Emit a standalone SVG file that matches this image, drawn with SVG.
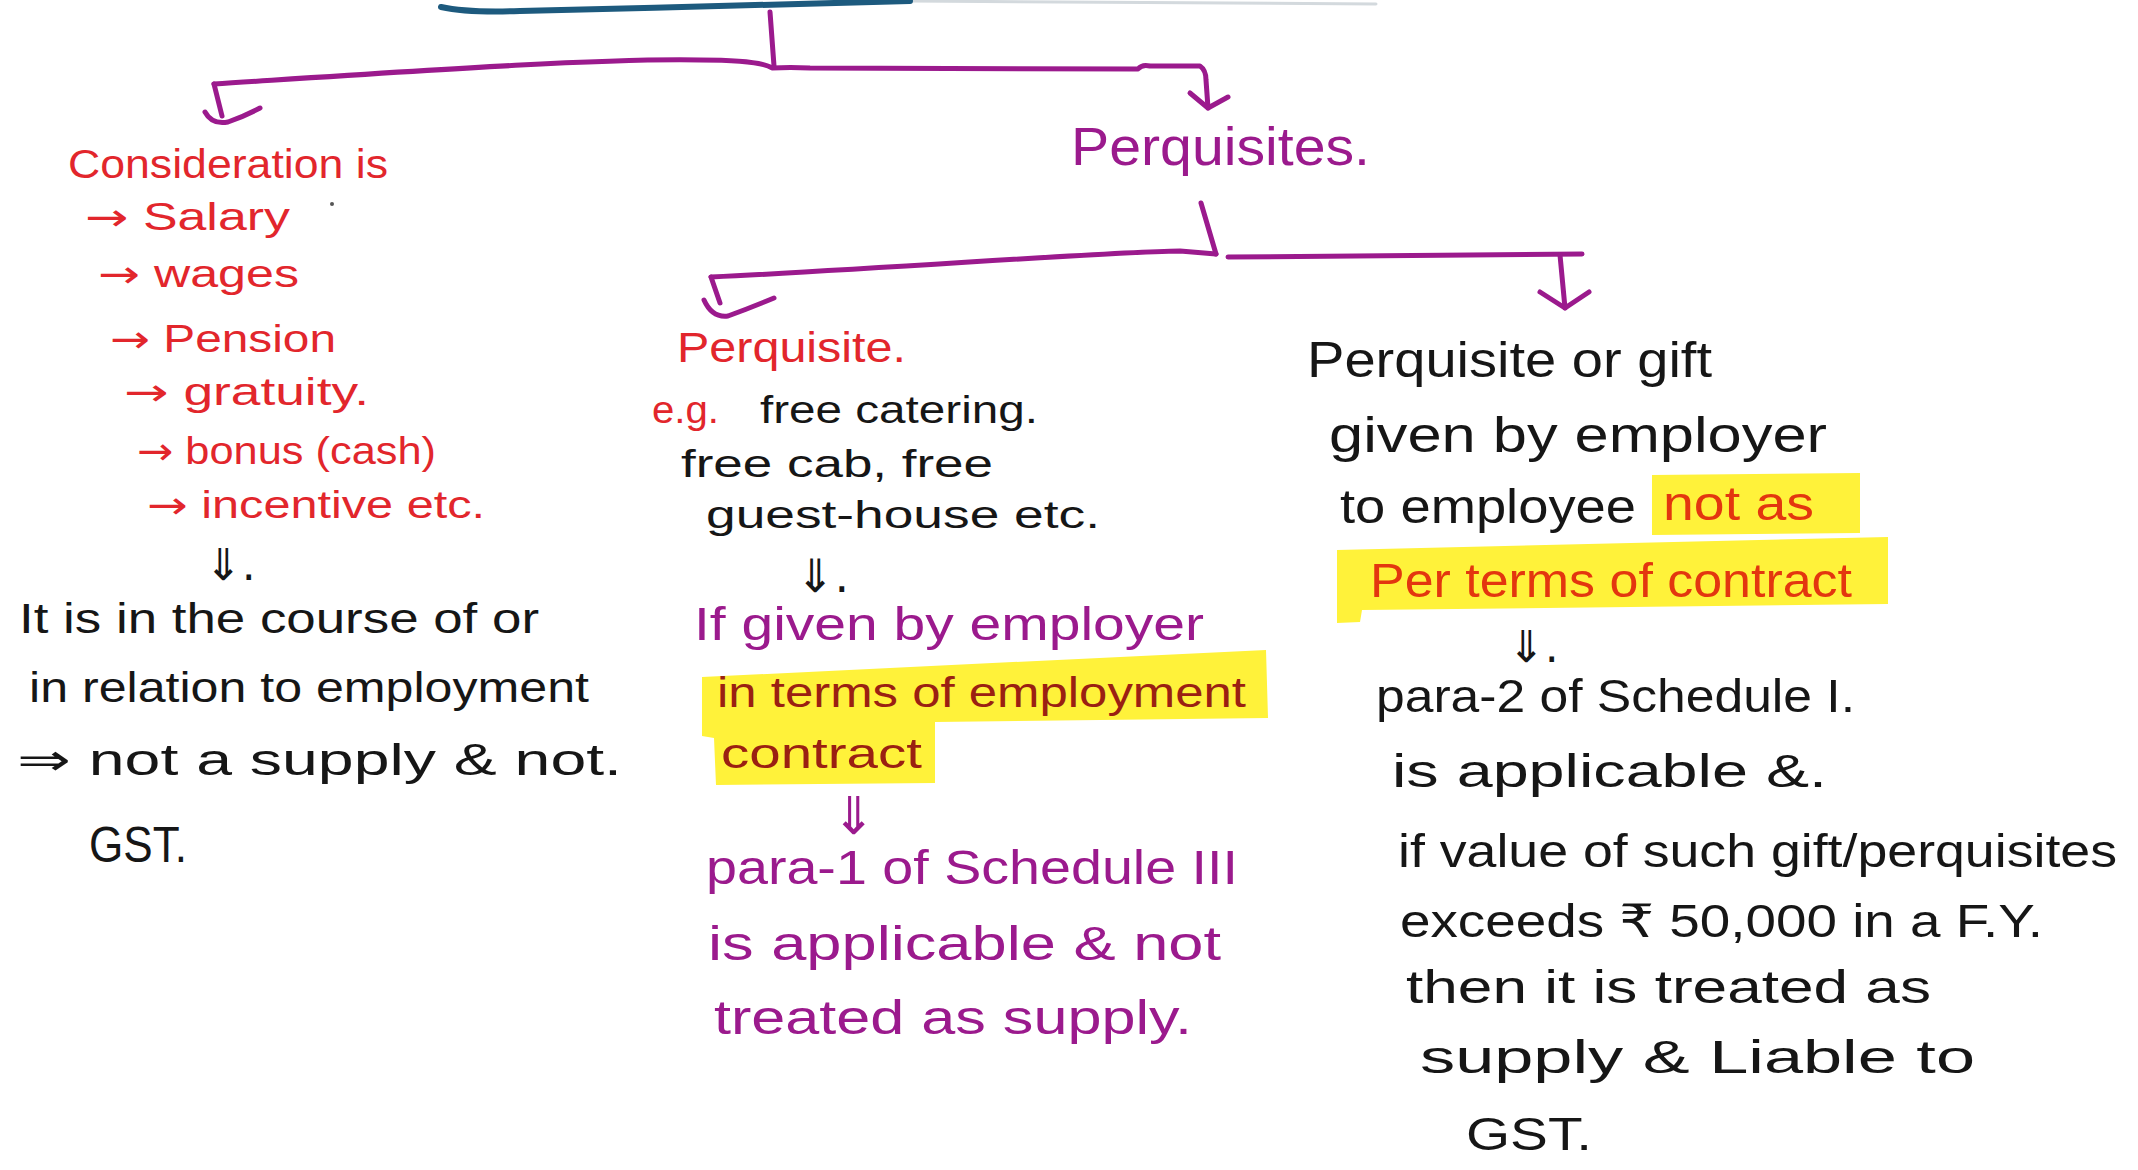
<svg xmlns="http://www.w3.org/2000/svg" width="2138" height="1170" viewBox="0 0 2138 1170">
<style>
.t{font-family:"Liberation Sans","DejaVu Sans",sans-serif;}
.ar{font-family:"DejaVu Sans","Liberation Sans",sans-serif;}
.red{fill:#e2262c}
.blk{fill:#161616}
.mag{fill:#9b1a8d}
.mar{fill:#9a2012}
.org{fill:#e3360f}
.hl{fill:#fff23a}
.con{fill:none;stroke:#9b1a8d;stroke-width:5;stroke-linecap:round;stroke-linejoin:round}
</style>
<rect width="2138" height="1170" fill="#ffffff"/>

<g id="heading-underline">
  <path d="M1376,4 C1200,3 1050,2 910,1" fill="none" stroke="#d3d9dd" stroke-width="3" stroke-linecap="round"/>
  <path d="M441,7 Q468,13 520,11 C650,8 800,4 910,1" fill="none" stroke="#1d5a7e" stroke-width="6" stroke-linecap="round"/>
</g>

<g id="connectors">
  <!-- top split -->
  <path class="con" d="M770,12 L774,66"/>
  <path class="con" d="M214,84 C400,72 600,58 700,60 Q760,60 772,68 Q790,67 810,68 L1138,69 Q1142,64 1150,66 L1200,66 Q1206,70 1206,80 L1208,108"/>
  <path class="con" d="M214,84 L222,116"/>
  <path class="con" d="M205,112 Q212,125 228,122 Q245,116 260,108"/>
  <path class="con" d="M1190,93 L1208,108 L1228,97"/>
  <!-- perquisites split -->
  <path class="con" d="M1201,203 L1216,254"/>
  <path class="con" d="M711,277 C900,268 1100,252 1180,251 L1216,254"/>
  <path class="con" d="M1228,257 L1582,254"/>
  <path class="con" d="M1560,255 L1565,308"/>
  <path class="con" d="M1540,292 L1565,308 L1589,292"/>
  <path class="con" d="M711,277 L720,303"/>
  <path class="con" d="M704,300 Q712,318 728,316 Q750,308 774,298"/>
  <!-- double arrows -->
  <text class="ar blk" x="205" y="580" font-size="44">⇓.</text>
  <text class="ar blk" x="796" y="592" font-size="46">⇓.</text>
  <text class="ar mag" x="832" y="834" font-size="52">⇓</text>
  <text class="ar blk" x="1508" y="662" font-size="44">⇓.</text>
</g>

<g id="node-perquisites">
  <text class="t mag" x="1071" y="165" font-size="54" textLength="299" lengthAdjust="spacingAndGlyphs">Perquisites.</text>
</g>

<g id="node-consideration">
  <text class="t red" x="68" y="178" font-size="40" textLength="320" lengthAdjust="spacingAndGlyphs">Consideration is</text>
  <text class="t red" x="85" y="230" font-size="38" textLength="205" lengthAdjust="spacingAndGlyphs"><tspan class="ar">→</tspan> Salary</text>
  <circle cx="332" cy="204" r="2" fill="#555"/>
  <text class="t red" x="98" y="287" font-size="38" textLength="201" lengthAdjust="spacingAndGlyphs"><tspan class="ar">→</tspan> wages</text>
  <text class="t red" x="110" y="352" font-size="38" textLength="226" lengthAdjust="spacingAndGlyphs"><tspan class="ar">→</tspan> Pension</text>
  <text class="t red" x="124" y="405" font-size="38" textLength="245" lengthAdjust="spacingAndGlyphs"><tspan class="ar">→</tspan> gratuity.</text>
  <text class="t red" x="137" y="464" font-size="38" textLength="299" lengthAdjust="spacingAndGlyphs"><tspan class="ar">→</tspan> bonus (cash)</text>
  <text class="t red" x="147" y="518" font-size="38" textLength="338" lengthAdjust="spacingAndGlyphs"><tspan class="ar">→</tspan> incentive etc.</text>
</g>

<g id="node-not-supply">
  <text class="t blk" x="19" y="633" font-size="42" textLength="520" lengthAdjust="spacingAndGlyphs">It is in the course of or</text>
  <text class="t blk" x="29" y="702" font-size="42" textLength="560" lengthAdjust="spacingAndGlyphs">in relation to employment</text>
  <text class="t blk" x="17" y="775" font-size="44" textLength="605" lengthAdjust="spacingAndGlyphs">⇒ not a supply &amp; not.</text>
  <text class="t blk" x="89" y="862" font-size="50" textLength="98" lengthAdjust="spacingAndGlyphs">GST.</text>
</g>

<g id="node-perquisite-contract">
  <text class="t red" x="677" y="362" font-size="42" textLength="229" lengthAdjust="spacingAndGlyphs">Perquisite.</text>
  <text class="t red" x="652" y="423" font-size="38" textLength="67" lengthAdjust="spacingAndGlyphs">e.g.</text>
  <text class="t blk" x="760" y="423" font-size="38" textLength="278" lengthAdjust="spacingAndGlyphs">free catering.</text>
  <text class="t blk" x="681" y="477" font-size="38" textLength="312" lengthAdjust="spacingAndGlyphs">free cab, free</text>
  <text class="t blk" x="706" y="528" font-size="38" textLength="394" lengthAdjust="spacingAndGlyphs">guest-house etc.</text>
  <text class="t mag" x="694" y="640" font-size="46" textLength="510" lengthAdjust="spacingAndGlyphs">If given by employer</text>
  <path class="hl" d="M702,677 L1266,650 L1268,718 L935,722 L935,783 L716,785 L714,738 L702,736 Z"/>
  <text class="t mar" x="717" y="707" font-size="42" textLength="529" lengthAdjust="spacingAndGlyphs">in terms of employment</text>
  <text class="t mar" x="721" y="768" font-size="42" textLength="201" lengthAdjust="spacingAndGlyphs">contract</text>
  <text class="t mag" x="706" y="884" font-size="48" textLength="532" lengthAdjust="spacingAndGlyphs">para-1 of Schedule III</text>
  <text class="t mag" x="708" y="960" font-size="48" textLength="513" lengthAdjust="spacingAndGlyphs">is applicable &amp; not</text>
  <text class="t mag" x="714" y="1034" font-size="48" textLength="478" lengthAdjust="spacingAndGlyphs">treated as supply.</text>
</g>

<g id="node-perquisite-gift">
  <text class="t blk" x="1307" y="377" font-size="50" textLength="405" lengthAdjust="spacingAndGlyphs">Perquisite or gift</text>
  <text class="t blk" x="1329" y="452" font-size="50" textLength="498" lengthAdjust="spacingAndGlyphs">given by employer</text>
  <path class="hl" d="M1652,475 L1860,473 L1860,533 L1652,535 Z"/>
  <path class="hl" d="M1337,550 L1888,537 L1888,604 L1362,610 L1360,622 L1337,623 Z"/>
  <text class="t blk" x="1340" y="523" font-size="48" textLength="296" lengthAdjust="spacingAndGlyphs">to employee</text>
  <text class="t org" x="1663" y="520" font-size="48" textLength="151" lengthAdjust="spacingAndGlyphs">not as</text>
  <text class="t org" x="1370" y="597" font-size="48" textLength="482" lengthAdjust="spacingAndGlyphs">Per terms of contract</text>
  <text class="t blk" x="1376" y="712" font-size="46" textLength="479" lengthAdjust="spacingAndGlyphs">para-2 of Schedule I.</text>
  <text class="t blk" x="1392" y="787" font-size="46" textLength="435" lengthAdjust="spacingAndGlyphs">is applicable &amp;.</text>
  <text class="t blk" x="1398" y="867" font-size="46" textLength="719" lengthAdjust="spacingAndGlyphs">if value of such gift/perquisites</text>
  <text class="t blk" x="1400" y="937" font-size="46" textLength="643" lengthAdjust="spacingAndGlyphs">exceeds ₹ 50,000 in a F.Y.</text>
  <text class="t blk" x="1406" y="1003" font-size="46" textLength="525" lengthAdjust="spacingAndGlyphs">then it is treated as</text>
  <text class="t blk" x="1420" y="1073" font-size="46" textLength="555" lengthAdjust="spacingAndGlyphs">supply &amp; Liable to</text>
  <text class="t blk" x="1466" y="1150" font-size="46" textLength="126" lengthAdjust="spacingAndGlyphs">GST.</text>
</g>
</svg>
